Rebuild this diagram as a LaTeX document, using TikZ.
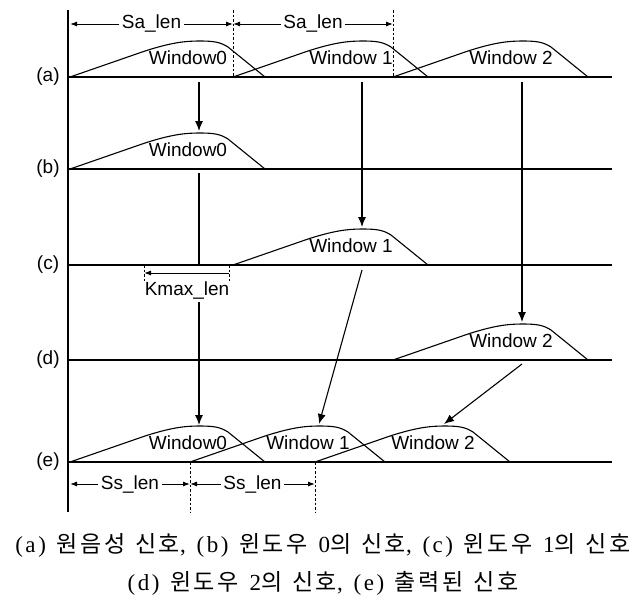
\documentclass[tikz,border=0pt]{standalone}
\usepackage{fontspec}
\setmainfont{Liberation Serif}
\newfontfamily\labfont{Liberation Sans}
\newfontfamily\krfont[LetterSpace=11,WordSpace=1.3]{Noto Sans CJK KR}
\newfontfamily\capserif[LetterSpace=11,WordSpace=1.3]{Liberation Serif}
\usetikzlibrary{arrows.meta}
\tikzset{
  win/.pic={\draw[wincurve] (0,0) -- (75,-26) .. controls (100,-34) and (114,-36) .. (129,-36) .. controls (144,-36) and (150,-35) .. (158,-30) -- (195,0);},
}
\begin{document}
\begin{tikzpicture}[x=1pt,y=-1pt,
  baseln/.style={line width=1.8pt},
  axisln/.style={line width=2.4pt},
  wincurve/.style={line width=1.1pt},
  flow/.style={line width=1.1pt,-{Latex[length=10pt,width=8pt]}},
  plainln/.style={line width=1.1pt},
  dimln/.style={line width=1pt,{Latex[length=7pt,width=5pt]}-{Latex[length=7pt,width=5pt]}},
  oneway/.style={line width=1pt,-{Latex[length=7pt,width=5pt]}},
  guide/.style={line width=1pt,dash pattern=on 2.5pt off 2pt},
  lbl/.style={font=\labfont\fontsize{19}{19}\selectfont, inner sep=2.5pt},
  wlbl/.style={font=\labfont\fontsize{19}{19}\selectfont, inner sep=0pt},
  rowlbl/.style={font=\labfont\fontsize{19}{19}\selectfont, inner sep=0pt},
  captext/.style={font=\capserif\fontsize{23}{27}\selectfont, inner sep=0pt}
]
\useasboundingbox (0,0) rectangle (642,600);

% axis
\coordinate (axtop) at (68,10);
\coordinate (axbot) at (68,512);
\draw[axisln] (axtop) -- (axbot);

% baselines
\foreach \nm/\yy in {a/77,b/169,c/265,d/360,e/462}{
  \coordinate (L\nm) at (68,\yy);
  \coordinate (R\nm) at (612,\yy);
  \draw[baseln] (L\nm) -- (R\nm);
  \node[rowlbl] (lab\nm) at (48,\yy) {(\nm)};
}

% windows
\foreach \nm/\xx/\yy/\txt in {
  a0/70/77/Window0, a1/233/77/Window 1, a2/393/77/Window 2,
  b0/70/169/Window0,
  c1/233/265/Window 1,
  d2/393/360/Window 2,
  e0/70/462/Window0, e1/190/462/Window 1, e2/315/462/Window 2}{
  \pic at (\xx,\yy) {win};
  \coordinate (pk\nm) at ({\xx+129},{\yy-36});
  \node[wlbl] (w\nm) at ({\xx+118},{\yy-19}) {\txt};
}

% guides top
\coordinate (g1t) at (233,10); \coordinate (g1b) at (233,77);
\coordinate (g2t) at (393,10); \coordinate (g2b) at (393,77);
\draw[guide] (g1t) -- (g1b);
\draw[guide] (g2t) -- (g2b);
\coordinate (s0) at (70,24); \coordinate (s1) at (233,24); \coordinate (s2) at (393,24);
\draw[dimln] (s0) -- (s1) node[midway, fill=white, lbl] (sa1) {Sa\_len};
\draw[dimln] (s1) -- (s2) node[midway, fill=white, lbl] (sa2) {Sa\_len};

% guides bottom
\coordinate (h1t) at (190,462); \coordinate (h1b) at (190,512);
\coordinate (h2t) at (315,462); \coordinate (h2b) at (315,512);
\draw[guide] (h1t) -- (h1b);
\draw[guide] (h2t) -- (h2b);
\coordinate (t0) at (70,484); \coordinate (t1) at (190,484); \coordinate (t2) at (315,484);
\draw[dimln] (t0) -- (t1) node[midway, fill=white, lbl] (ss1) {Ss\_len};
\draw[dimln] (t1) -- (t2) node[midway, fill=white, lbl] (ss2) {Ss\_len};

% Kmax
\coordinate (k1t) at (144,265); \coordinate (k1b) at (144,282);
\coordinate (k2t) at (229,265); \coordinate (k2b) at (229,282);
\draw[guide] (k1t) -- (k1b);
\draw[guide] (k2t) -- (k2b);
\coordinate (ka) at (229,273); \coordinate (kb) at (144,273);
\draw[oneway] (ka) -- (kb);
\node[lbl] (kmax) at (187,290) {Kmax\_len};

% flow arrows
\coordinate (fa0) at (199,82);  \coordinate (fa1) at (362,82); \coordinate (fa2) at (522,82);
\draw[flow] (fa0) -- (199,131);
\draw[flow] (fa1) -- (362,227);
\draw[flow] (fa2) -- (522,322);
\coordinate (fb0) at (199,173); \coordinate (fc0) at (199,265);
\draw[plainln] (fb0) -- (fc0);
\coordinate (fk0) at (199,302);
\draw[flow] (fk0) -- (199,425);
\coordinate (fc1) at (362,270);
\draw[flow] (fc1) -- (319,424);
\coordinate (fd2) at (522,364);
\draw[flow] (fd2) -- (444,424);

% caption
\node[captext] (cap1) at (323,545) {(a) {\krfont 원음성 신호}, (b) {\krfont 윈도우} 0{\krfont 의 신호}, (c) {\krfont 윈도우} 1{\krfont 의 신호}};
\node[captext] (cap2) at (323,583) {(d) {\krfont 윈도우} 2{\krfont 의 신호}, (e) {\krfont 출력된 신호}};
\end{tikzpicture}
\end{document}
